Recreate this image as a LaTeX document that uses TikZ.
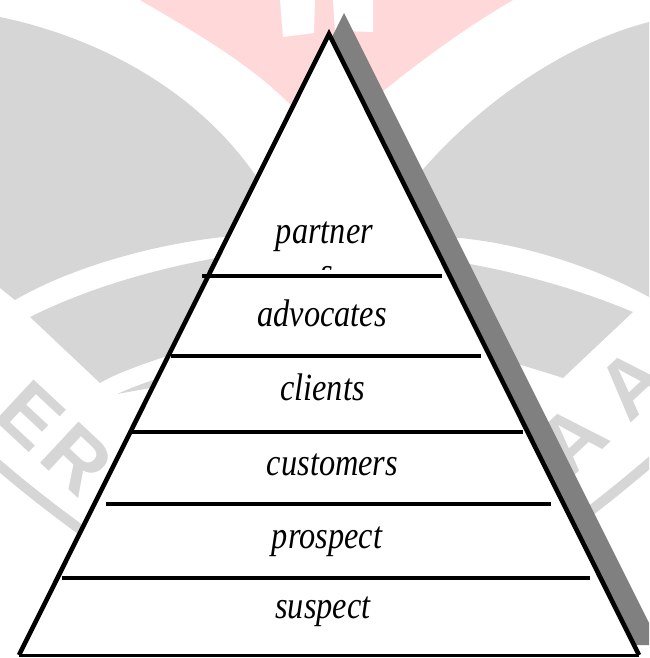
\documentclass[tikz,border=0pt]{standalone}
\usepackage{fontspec}
\setmainfont{Liberation Serif}
\newfontfamily\markfont{Liberation Sans}
\definecolor{wmgrey}{RGB}{214,214,214}
\definecolor{wmpink}{RGB}{255,217,217}
\definecolor{shadowgrey}{RGB}{128,128,128}
\newcommand{\lvl}[1]{\scalebox{0.84}[1]{#1}}
\begin{document}
\begin{tikzpicture}[x=1pt,y=-1pt,
  level/.style={font=\fontsize{38.5}{40}\selectfont\itshape, anchor=base, inner sep=0pt},
  rung/.style={line width=3.2pt},
  wall/.style={line width=4.6pt, miter limit=10},
  glyph/.style={text=wmgrey, font=\markfont\bfseries\fontsize{82}{82}\selectfont, inner sep=0pt}]
\useasboundingbox (0,0) rectangle (649,658);
\clip (0,0) rectangle (649,658);

% ---- faded emblem in the background ----
% pink crown with two white posts
\fill[wmpink] (140,0) .. controls (200,35) and (260,70) .. (300,115) -- (330,140)
  -- (360,110) .. controls (420,60) and (470,25) .. (513,0) -- cycle;
\fill[white] (280,0) -- (315,0) -- (314,33) -- (283,37) -- cycle;
\fill[white] (333,0) -- (373,0) -- (373,32) -- (335,31) -- cycle;
% left wing
\fill[wmgrey] (0,17) .. controls (110,40) and (210,100) .. (265,190) -- (280,232)
  -- (223,237) .. controls (150,245) and (70,268) .. (15,300) -- (0,288) -- cycle;
% right wing
\fill[wmgrey] (649,22) .. controls (560,45) and (470,110) .. (410,185) -- (400,235)
  -- (460,238) .. controls (530,245) and (600,270) .. (649,297) -- cycle;
% inner ring band
\fill[wmgrey] (30,317) .. controls (80,292) and (150,268) .. (240,254) -- (240,345)
  -- (170,355) .. controls (140,365) and (115,374) .. (100,383) -- cycle;
\fill[wmgrey] (633,312) .. controls (580,290) and (510,268) .. (420,256) -- (420,345)
  -- (490,355) .. controls (520,365) and (545,372) .. (563,378) -- cycle;
% thin ring slivers
\fill[wmgrey] (117,394) .. controls (140,384) and (165,375) .. (190,370) -- (190,382)
  .. controls (165,385) and (140,390) .. (117,394) -- cycle;
\fill[wmgrey] (533,394) .. controls (510,384) and (485,375) .. (460,370) -- (460,382)
  .. controls (485,385) and (510,390) .. (533,394) -- cycle;
% outer ring line
\draw[wmgrey, line width=10pt] (-5,462) .. controls (30,492) and (60,515) .. (95,540);
\draw[wmgrey, line width=10pt] (655,458) .. controls (620,488) and (590,512) .. (555,537);
% lettering of the ring
\node[glyph, rotate=-43] (markER) at (55,438) {E\hspace{7pt}R};
\node[glyph, rotate=43] (markAA) at (602,412) {A\hspace{23pt}A};

% ---- pyramid ----
\fill[shadowgrey] (344,13) -- (660,645) -- (29,645) -- cycle;
\coordinate (apex) at (329,34);
\coordinate (bl) at (19,655);
\coordinate (br) at (639,655);
\fill[white] (apex) -- (br) -- (bl) -- cycle;
\draw[wall] (bl) -- (apex) -- (br);
\draw[line width=3pt] (bl) -- (br);

% level dividers
\draw[rung] (202,276) -- (442,276);
\draw[rung] (171,356) -- (481,356);
\draw[rung] (132,432) -- (523,432);
\draw[rung] (106,504) -- (551,504);
\draw[rung] (62,578) -- (590,578);

% level names
\node[level] (partner) at (324.5,243) {\lvl{partner}};
\begin{scope}
  \clip (250,255) rectangle (400,269.5);
  \node[level] (partnerwrap) at (327,284) {\lvl{s}};
\end{scope}
\node[level] (advocates) at (322,326) {\lvl{advocates}};
\node[level] (clients) at (322.5,400) {\lvl{clients}};
\node[level] (customers) at (332.5,475) {\lvl{customers}};
\node[level] (prospect) at (327,548) {\lvl{prospect}};
\node[level] (suspect) at (323,618) {\lvl{suspect}};
\end{tikzpicture}
\end{document}
